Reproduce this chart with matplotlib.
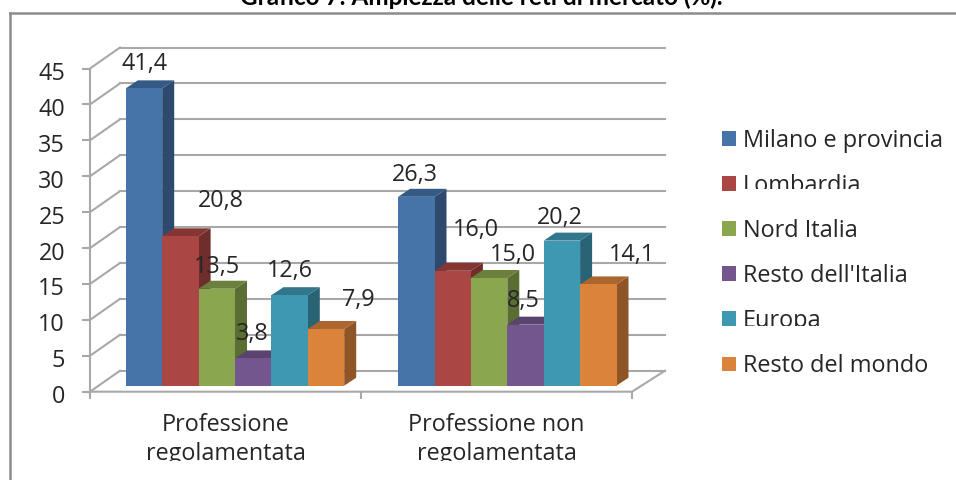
import matplotlib
matplotlib.use("Agg")
import matplotlib.pyplot as plt
from matplotlib.lines import Line2D
from matplotlib.patches import Polygon, Patch
from matplotlib.transforms import Bbox, Affine2D

plt.rcParams['font.family'] = ['Open Sans', 'DejaVu Sans']

groups = ["Professione\nregolamentata", "Professione non\nregolamentata"]
series = ["Milano e provincia", "Lombardia", "Nord Italia", "Resto dell'Italia", "Europa", "Resto del mondo"]
regolamentata = [41.4, 20.8, 13.5, 3.8, 12.6, 7.9]
non_regolamentata = [26.3, 16.0, 15.0, 8.5, 20.2, 14.1]
yticks = [0, 5, 10, 15, 20, 25, 30, 35, 40, 45]

front = ["#4674A8", "#AA4644", "#8AA64E", "#74568F", "#3F98B2", "#DB823B"]
side = ["#2D4A6E", "#6F2D2C", "#5A6D33", "#4C3860", "#296375", "#8F5526"]
top = ["#365A86", "#853634", "#6B803C", "#5A436F", "#31768B", "#AA6530"]

# label offsets from the top centre of each bar, in pixels
label_off = [
    [(1, 24), (40.5, 35), (0, 22), (-1, 24), (0.5, 24), (32, 29)],
    [(-1.5, 22), (23, 41), (24, 23), (-2.5, 24), (-2, 23), (33.5, 29)],
]

W, H = 956, 480
GRAY = "#A8A8A8"
TEXT = "#262626"
FS = 16.8

fig = plt.figure(figsize=(W / 100, H / 100), dpi=100)
ax = fig.add_axes([90 / W, 1 - 391.7 / H, 542 / W, 323.2 / H])
ax.set_xlim(0, 2)
ax.set_ylim(0, 45)
px = 2 / 542
py = 45 / 323.2


def clip_y(art, y_top, y_bot):
    art.set_clip_on(True)
    art.set_clip_box(Bbox([[0, H - y_bot], [W, H - y_top]]))


# outer frame and title
fig.add_artist(Line2D([10 / W, 10 / W], [0, 1 - 12.5 / H], color="#8C8C8C", lw=1.8))
fig.add_artist(Line2D([10 / W, 1], [1 - 12.5 / H, 1 - 12.5 / H], color="#8C8C8C", lw=1.8))
fig.text(481 / W, 1 - 5 / H, "Grafico 7: Ampiezza delle reti di mercato (%).", ha="center", va="baseline",
         fontsize=17.5, fontweight="bold", color="black", family=["Lato", "DejaVu Sans"])

# walls and floor
wall_x = 30 * px
wall_y = 21 * py
for v in yticks:
    ax.plot([0, wall_x], [v, v + wall_y], color=GRAY, lw=1.5, clip_on=False, zorder=1)
    ax.plot([wall_x, 2 + 33 * px], [v + wall_y, v + wall_y], color=GRAY, lw=1.5, clip_on=False, zorder=1)
ax.plot([0, 2, 2 + 33 * px], [0, 0, wall_y], color=GRAY, lw=1.5, clip_on=False, zorder=1)

# bars
bar_w = 36.4 * px
dx = 12 * px
dy = 8 * py
ox = [9.5 * px, 10.8 * px]
oy = 6 * py
for g, vals in enumerate([regolamentata, non_regolamentata]):
    for i, v in enumerate(vals):
        x = g + 0.5 + ox[g] + (i - 2.5) * bar_w
        z = 3 + g + i * 0.1
        ax.bar(x, v, bar_w, bottom=oy, color=front[i], zorder=z + 0.02, clip_on=False)
        l, r, t = x - bar_w / 2, x + bar_w / 2, v + oy
        ax.add_patch(Polygon([(r, oy), (r + dx, oy + dy), (r + dx, t + dy), (r, t)],
                             facecolor=side[i], zorder=z, clip_on=False))
        ax.add_patch(Polygon([(l, t), (l + dx, t + dy), (r + dx, t + dy), (r, t)],
                             facecolor=top[i], zorder=z + 0.01, clip_on=False))
        ax.annotate(f"{v:.1f}".replace(".", ","), (x, t), xytext=label_off[g][i], textcoords="offset pixels",
                    ha="center", va="center", fontsize=FS, color=TEXT, zorder=10, annotation_clip=False)

# axes
for name in ["top", "right", "bottom"]:
    ax.spines[name].set_visible(False)
ax.spines["left"].set_color(GRAY)
ax.spines["left"].set_linewidth(1.5)
ax.patch.set_visible(False)
ax.set_yticks(yticks)
ax.set_xticks([0, 1, 2])
ax.set_xticklabels([])
ax.tick_params(axis="y", length=6, width=1.5, color=GRAY, labelcolor=TEXT, labelsize=FS, pad=12)
ax.tick_params(axis="x", length=5, width=1.5, color=GRAY)
ax.plot([0, 0], [0, -4 * py], color=GRAY, lw=1.5, clip_on=False)
for lab in ax.get_yticklabels():
    lab.set_transform(lab.get_transform() + Affine2D().translate(0, -2.5))

for g, name in enumerate(groups):
    t = ax.text(g + 0.5, -48 * py, name, ha="center", va="center", fontsize=FS, color=TEXT,
                linespacing=1.3, clip_on=True)
    clip_y(t, 400, 461)

# legend
handles = [Patch(facecolor=c, label=s) for c, s in zip(front, series)]
leg = fig.legend(handles=handles, loc="center left", bbox_to_anchor=(722 / W, 1 - 253.5 / H), frameon=False,
                 fontsize=16.9, labelcolor=TEXT, handlelength=0.6, handleheight=0.6,
                 handletextpad=0.3, labelspacing=0.9, borderpad=0, borderaxespad=0)
clip_boxes = {"Lombardia": (0, 189), "Europa": (0, 325.5)}
for t in leg.get_texts():
    if t.get_text() in clip_boxes:
        clip_y(t, *clip_boxes[t.get_text()])

fig.savefig("out.png", dpi=100, facecolor="white")
